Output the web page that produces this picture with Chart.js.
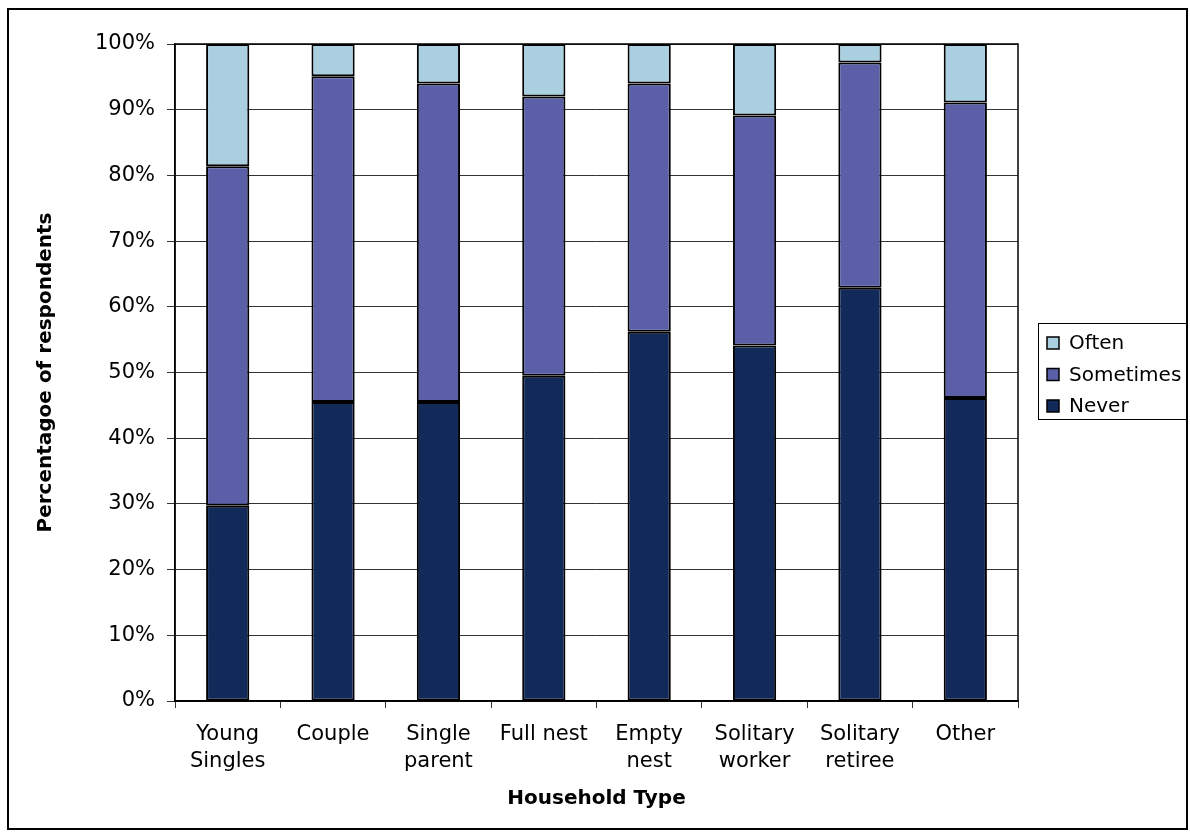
<!DOCTYPE html>
<html>
<head>
<meta charset="utf-8">
<title>Household Type</title>
<script src="https://cdn.jsdelivr.net/npm/chart.js@4.4.0/dist/chart.umd.min.js"></script>
<style>
    html, body { margin: 0; padding: 0; background: #fff; }
    #wrap { width: 1190px; height: 832px; position: relative; }
</style>
</head>
<body>
<div id="wrap"><canvas id="householdChart"></canvas></div>
<script>
const categories = [
    ['Young', 'Singles'], 'Couple', ['Single', 'parent'], 'Full nest',
    ['Empty', 'nest'], ['Solitary', 'worker'], ['Solitary', 'retiree'], 'Other'
];
const never = [29.7, 45.5, 45.5, 49.5, 56.2, 54.1, 62.9, 46.1];
const sometimes = [51.7, 49.6, 48.5, 42.5, 37.8, 35.0, 34.3, 45.0];
const often = [18.6, 4.9, 6.0, 8.0, 6.0, 10.9, 2.8, 8.9];
const yTicks = [0, 10, 20, 30, 40, 50, 60, 70, 80, 90, 100];

const FONT = 'DejaVu Sans';

// frame round the whole picture, box round the plot
const framePlugin = {
    id: 'frame',
    beforeDatasetsDraw(chart) {
        const { ctx, chartArea: a } = chart;
        ctx.save();
        ctx.strokeStyle = '#000';
        ctx.lineWidth = 1.5;
        ctx.strokeRect(a.left, a.top, a.right - a.left, a.bottom - a.top);
        ctx.restore();
    },
    afterDraw(chart) {
        const ctx = chart.ctx;
        ctx.save();
        ctx.strokeStyle = '#000';
        ctx.lineWidth = 2;
        ctx.strokeRect(8, 9, 1179, 820);
        ctx.restore();
    }
};

// legend box on the right, top entry = top of the stack
const boxLegend = {
    id: 'boxLegend',
    afterDraw(chart) {
        const ctx = chart.ctx;
        const sets = chart.data.datasets.slice().reverse();
        const x = 1038, y = 323, w = 149, h = 96;
        ctx.save();
        ctx.strokeStyle = '#000';
        ctx.lineWidth = 1;
        ctx.strokeRect(x + 0.5, y + 0.5, w, h);
        ctx.font = '20px "' + FONT + '"';
        ctx.textBaseline = 'middle';
        ctx.fillStyle = '#000';
        sets.forEach((ds, i) => {
            const cy = y + 20 + i * 31.5;
            ctx.fillStyle = ds.backgroundColor;
            ctx.fillRect(1047, cy - 6, 12, 12);
            ctx.lineWidth = 1.5;
            ctx.strokeRect(1047, cy - 6, 12, 12);
            ctx.fillStyle = '#000';
            ctx.fillText(ds.label, 1069, cy + 1);
        });
        ctx.restore();
    }
};

const barStyle = {
    borderColor: '#000',
    borderWidth: 2,
    borderSkipped: false,
    barPercentage: 0.41,
    categoryPercentage: 1.0
};

new Chart(document.getElementById('householdChart'), {
    type: 'bar',
    data: {
        labels: categories,
        datasets: [
            { label: 'Never', data: never, backgroundColor: '#112A5A', ...barStyle },
            { label: 'Sometimes', data: sometimes, backgroundColor: '#5A5FA8', ...barStyle },
            { label: 'Often', data: often, backgroundColor: '#A9CFE1', ...barStyle }
        ]
    },
    options: {
        responsive: true,
        maintainAspectRatio: false,
        animation: false,
        layout: {
            padding: { top: 44, left: 0, right: 172, bottom: 0 }
        },
        plugins: {
            legend: { display: false },
            tooltip: { enabled: false }
        },
        scales: {
            x: {
                stacked: true,
                afterFit(scale) { scale.height = 131; },
                grid: {
                    offset: true,
                    drawOnChartArea: false,
                    color: '#333',
                    tickLength: 7
                },
                border: { display: true, color: '#000', width: 1.5 },
                ticks: {
                    color: '#000',
                    padding: 13,
                    maxRotation: 0,
                    autoSkip: false,
                    font: { family: FONT, size: 21, lineHeight: 1.29 }
                },
                title: {
                    display: true,
                    text: 'Household Type',
                    color: '#000',
                    font: { family: FONT, size: 20, weight: 'bold' },
                    padding: { top: 0, bottom: 21 }
                }
            },
            y: {
                stacked: true,
                min: 0,
                max: 100,
                afterFit(scale) { scale.width = 175; },
                afterBuildTicks(scale) {
                    scale.ticks = yTicks.map(v => ({ value: v }));
                },
                grid: {
                    color: '#333',
                    lineWidth: 1,
                    tickLength: 8
                },
                border: { display: true, color: '#000', width: 1.5 },
                ticks: {
                    color: '#000',
                    padding: 12,
                    font: { family: FONT, size: 21 },
                    callback: v => v + '%'
                },
                title: {
                    display: true,
                    text: 'Percentagoe of respondents',
                    color: '#000',
                    font: { family: FONT, size: 20, weight: 'bold' },
                    padding: { top: 34, bottom: 0 }
                }
            }
        }
    },
    plugins: [framePlugin, boxLegend]
});
</script>
</body>
</html>
